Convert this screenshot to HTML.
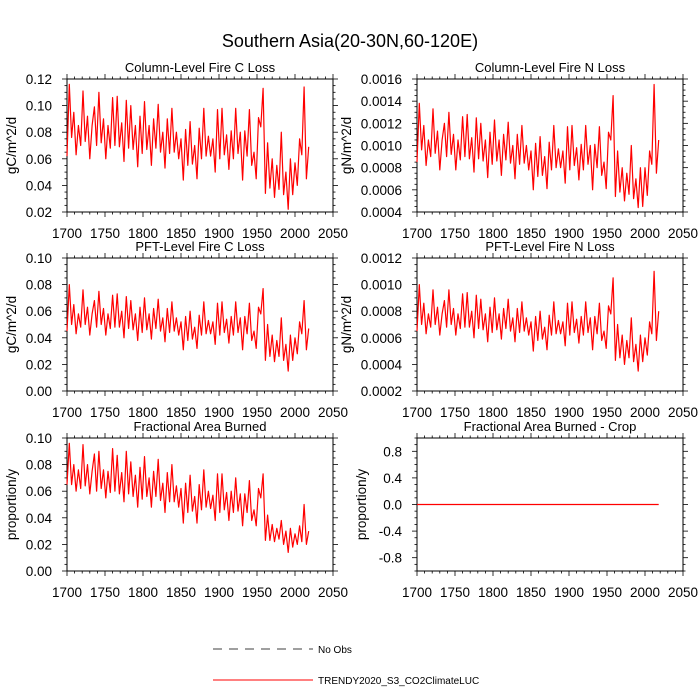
<!DOCTYPE html>
<html><head><meta charset="utf-8"><style>
body{margin:0;background:#fff}
svg{display:block;font-family:"Liberation Sans",Arial,sans-serif}
</style></head><body>
<svg id="c" width="700" height="700" viewBox="0 0 700 700">
<text x="350" y="47" font-size="18" text-anchor="middle">Southern Asia(20-30N,60-120E)</text>
<g>
<line x1="213" y1="649" x2="313" y2="649" stroke="#000" stroke-width="0.8" stroke-dasharray="9,7"/>
<text x="318" y="653" font-size="10">No Obs</text>
<line x1="213" y1="680" x2="313" y2="680" stroke="#f00" stroke-width="1"/>
<text x="318" y="684" font-size="10">TRENDY2020_S3_CO2ClimateLUC</text>
</g>
</svg>
<script>
const xTicks=[1700,1750,1800,1850,1900,1950,2000,2050];
const colC=[.062,.116,.076,.095,.063,.085,.07,.111,.073,.092,
.06,.085,.099,.07,.11,.072,.09,.06,.085,.068,
.106,.07,.107,.069,.087,.058,.104,.068,.1,.067,
.085,.054,.092,.064,.103,.067,.085,.055,.09,.068,
.101,.065,.08,.053,.09,.064,.098,.065,.08,.06,
.075,.044,.082,.055,.088,.056,.07,.045,.083,.06,
.098,.062,.077,.062,.075,.05,.097,.06,.098,.063,
.078,.052,.081,.06,.098,.064,.08,.044,.081,.062,
.097,.055,.065,.045,.091,.084,.113,.034,.072,.038,
.06,.031,.055,.037,.08,.033,.05,.022,.06,.033,
.057,.04,.075,.063,.114,.045,.069];
const colNx1e4=[8.5,13.8,9.6,11.8,8.2,10.5,9.0,13.3,9.3,11.3,
7.8,10.5,12.0,9.0,13.0,9.2,11.0,7.8,10.5,8.7,
12.6,9.0,12.8,8.8,10.7,7.6,12.5,8.8,12.0,8.6,
10.5,7.1,11.2,8.3,12.3,8.6,10.5,7.3,11.0,8.7,
12.1,8.4,10.0,7.0,11.0,8.3,11.8,8.4,10.0,7.8,
9.5,6.0,10.2,7.2,10.8,7.3,9.0,6.1,10.3,7.8,
11.8,8.0,9.7,8.0,9.5,6.6,11.7,7.8,11.8,8.2,
9.8,6.9,10.1,7.8,11.8,8.3,10.0,6.0,10.1,8.0,
11.7,7.3,8.5,6.1,11.2,10.5,14.5,5.4,9.5,5.8,
8.0,5.0,7.5,5.6,10.0,5.2,7.0,4.4,8.0,4.5,
8.0,5.5,9.5,8.3,15.5,7.5,10.5];
const pftCx1e2=[4.5,8.0,5.0,6.5,4.3,5.8,4.8,7.6,5.0,6.3,
4.2,5.8,6.8,4.8,7.5,5.0,6.2,4.2,5.8,4.7,
7.2,4.8,7.3,4.8,6.0,4.0,7.1,4.7,6.8,4.6,
5.8,3.8,6.3,4.4,7.0,4.6,5.8,3.9,6.2,4.7,
6.9,4.5,5.5,3.7,6.2,4.4,6.7,4.5,5.5,4.2,
5.2,3.1,5.6,3.8,6.0,3.9,4.8,3.2,5.7,4.2,
6.7,4.3,5.3,4.3,5.2,3.5,6.6,4.2,6.7,4.4,
5.4,3.6,5.6,4.2,6.7,4.4,5.5,3.1,5.6,4.3,
6.6,3.8,4.5,3.2,6.3,5.8,7.7,2.3,5.0,2.6,
4.2,2.2,3.8,2.6,5.5,2.3,3.5,1.5,4.2,2.3,
4.0,2.8,5.2,4.3,6.8,3.1,4.7];
const pftNx1e4=[6.5,10.0,7.0,8.6,6.3,7.8,6.8,9.6,7.0,8.3,
6.2,7.8,8.8,6.8,9.6,7.0,8.2,6.2,7.8,6.7,
9.3,6.8,9.4,6.8,8.0,6.0,9.2,6.7,8.9,6.6,
7.8,5.7,8.3,6.4,9.0,6.6,7.8,5.9,8.2,6.7,
8.9,6.5,7.5,5.7,8.2,6.4,8.7,6.5,7.5,6.2,
7.2,5.0,7.6,5.8,8.0,5.9,6.8,5.1,7.7,6.2,
8.7,6.3,7.3,6.3,7.2,5.4,8.6,6.2,8.7,6.4,
7.4,5.6,7.6,6.2,8.7,6.4,7.5,5.1,7.6,6.3,
8.6,5.8,6.5,5.2,8.4,7.8,10.5,4.3,7.0,4.5,
6.2,4.0,5.8,4.5,7.5,4.2,5.5,3.5,6.2,4.2,
6.0,4.7,7.2,6.3,11.0,5.8,8.0];
const fabx1e2=[6.5,9.6,6.5,8.0,6.0,7.6,6.2,9.5,6.4,8.0,
5.8,7.5,8.8,6.0,9.0,6.2,7.6,5.5,7.5,5.9,
9.2,6.0,8.7,5.8,7.4,5.2,9.0,5.8,8.2,5.6,
7.2,4.8,7.8,5.4,8.6,5.6,7.0,4.8,7.5,5.6,
8.4,5.3,6.6,4.4,7.4,5.2,8.0,5.2,6.4,4.8,
6.2,3.6,6.6,4.4,7.2,4.5,5.6,3.6,6.5,4.6,
7.6,4.8,6.0,4.7,5.7,3.8,7.3,4.4,7.3,4.6,
5.9,3.8,6.0,4.4,7.0,4.5,5.8,3.4,5.8,4.4,
6.8,3.8,4.6,3.4,6.2,5.5,7.3,2.3,4.2,2.3,
3.5,2.2,3.2,2.4,3.8,2.0,3.0,1.4,3.2,1.8,
2.8,2.0,3.4,2.2,5.0,2.0,3.0];
const cropVals=[0,0];
const cropYears=[1700,2018];
const years=colC.map((_,i)=>1700+3*i);

const yT1=[0.02,0.04,0.06,0.08,0.10,0.12], yL1=["0.02","0.04","0.06","0.08","0.10","0.12"];
const yT2=[4,6,8,10,12,14,16], yL2=["0.0004","0.0006","0.0008","0.0010","0.0012","0.0014","0.0016"];
const yT3=[0,2,4,6,8,10], yL3=["0.00","0.02","0.04","0.06","0.08","0.10"];
const yT4=[2,4,6,8,10,12], yL4=["0.0002","0.0004","0.0006","0.0008","0.0010","0.0012"];
const yT6=[-0.8,-0.4,0,0.4,0.8], yL6=["-0.8","-0.4","0.0","0.4","0.8"];

const svg=document.getElementById('c');
const NS='http://www.w3.org/2000/svg';
function mk(tag,attrs,parent){const e=document.createElementNS(NS,tag);for(const k in attrs)e.setAttribute(k,attrs[k]);parent.appendChild(e);return e;}

function panel(o){
  const g=mk('g',{},svg);
  
  
  const L=o.x0,R=o.x0+266,T=o.y0,B=o.y0+133;
  const sx=v=>L+(v-1700)/350*(R-L);
  const sy=v=>B-(v-o.ymin)/(o.ymax-o.ymin)*(B-T);
  for(let yr=1700;yr<=2050;yr+=10){
    const major=(yr%50===0), len=major?5:2.5;
    mk('line',{x1:sx(yr),x2:sx(yr),y1:B,y2:B+len,stroke:'#000','stroke-width':0.8},g);
    mk('line',{x1:sx(yr),x2:sx(yr),y1:T,y2:T-len,stroke:'#000','stroke-width':0.8},g);
  }
  const step=(o.yticks[1]-o.yticks[0])/o.minor;
  for(let v=o.ymin;v<=o.ymax+1e-9;v+=step){
    const isMaj=o.yticks.some(t=>Math.abs(t-v)<1e-9), len=isMaj?5:2.5;
    mk('line',{x1:L,x2:L-len,y1:sy(v),y2:sy(v),stroke:'#000','stroke-width':0.8},g);
    mk('line',{x1:R,x2:R+len,y1:sy(v),y2:sy(v),stroke:'#000','stroke-width':0.8},g);
  }
  const box=mk('rect',{x:L,y:T,width:R-L,height:B-T,fill:'none',stroke:'#000','stroke-width':1},g);
  
  
  xTicks.forEach(t=>{const e=mk('text',{x:sx(t),y:B+26,'font-size':13.5,'text-anchor':'middle'},g);e.textContent=t;
    
    });
  o.yticks.forEach((t,i)=>{const e=mk('text',{x:L-15,y:sy(t)+5,'font-size':13.5,'text-anchor':'end'},g);e.textContent=o.ylabels[i];
    
    });
  const ti=mk('text',{x:(L+R)/2,y:T-7,'font-size':13,'text-anchor':'middle'},g);ti.textContent=o.title;
  
  
  const ya=mk('text',{x:0,y:0,'font-size':13.5,'text-anchor':'middle',transform:`translate(${o.ylx},${(T+B)/2}) rotate(-90)`},g);ya.textContent=o.ylab;
  
  
  const pts=o.vals.map((v,i)=>sx(o.xs[i]).toFixed(1)+','+sy(v).toFixed(1)).join(' ');
  const pl=mk('polyline',{points:pts,fill:'none',stroke:'#f00','stroke-width':1.2,'stroke-linejoin':'round'},g);
  
  
}
panel({name:'panel-column-fire-c-loss',x0:67,y0:79,ymin:0.02,ymax:0.12,yticks:yT1,ylabels:yL1,minor:4,title:'Column-Level Fire C Loss',ylab:'gC/m^2/d',ylx:16,xs:years,vals:colC});
panel({name:'panel-column-fire-n-loss',x0:417,y0:79,ymin:4,ymax:16,yticks:yT2,ylabels:yL2,minor:4,title:'Column-Level Fire N Loss',ylab:'gN/m^2/d',ylx:351,xs:years,vals:colNx1e4});
panel({name:'panel-pft-fire-c-loss',x0:67,y0:258,ymin:0,ymax:10,yticks:yT3,ylabels:yL3,minor:4,title:'PFT-Level Fire C Loss',ylab:'gC/m^2/d',ylx:16,xs:years,vals:pftCx1e2});
panel({name:'panel-pft-fire-n-loss',x0:417,y0:258,ymin:2,ymax:12,yticks:yT4,ylabels:yL4,minor:4,title:'PFT-Level Fire N Loss',ylab:'gN/m^2/d',ylx:351,xs:years,vals:pftNx1e4});
panel({name:'panel-fractional-area-burned',x0:67,y0:438,ymin:0,ymax:10,yticks:yT3,ylabels:yL3,minor:4,title:'Fractional Area Burned',ylab:'proportion/y',ylx:16,xs:years,vals:fabx1e2});
panel({name:'panel-fractional-area-burned-crop',x0:417,y0:438,ymin:-1,ymax:1,yticks:yT6,ylabels:yL6,minor:4,title:'Fractional Area Burned - Crop',ylab:'proportion/y',ylx:366,xs:cropYears,vals:cropVals});
</script>
</body></html>
